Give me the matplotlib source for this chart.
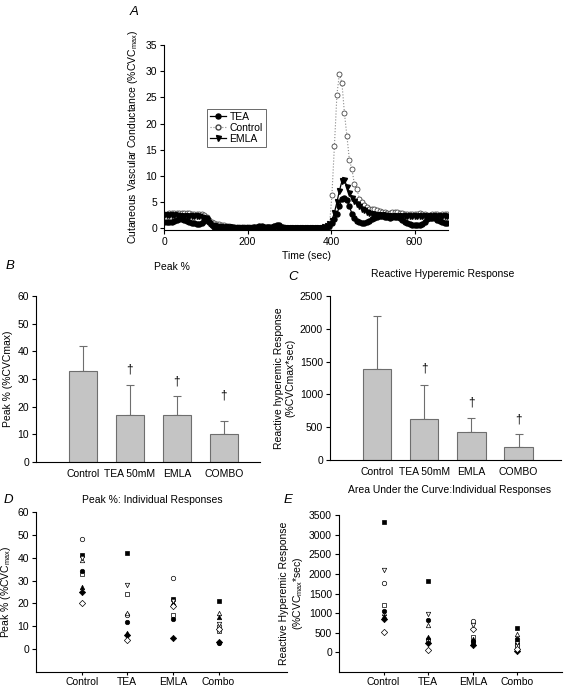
import numpy as np
import matplotlib
matplotlib.use('Agg')
import matplotlib.pyplot as plt
from matplotlib import rcParams
from matplotlib.lines import Line2D

rcParams['font.family'] = ['Liberation Sans', 'DejaVu Sans']
rcParams['font.size'] = 7.5
rcParams['axes.linewidth'] = 0.8
rcParams['xtick.major.size'] = 3
rcParams['ytick.major.size'] = 3
rcParams['xtick.major.width'] = 0.8
rcParams['ytick.major.width'] = 0.8
rcParams['mathtext.default'] = 'regular'

# ---------- data ----------
# panel A: time course, sampled every 6 s
time_s = np.arange(0, 680, 6)
cvc_control = [2.8, 2.8, 2.9, 2.9, 2.9, 3.0, 3.0, 3.0, 2.9, 2.9, 2.9, 2.8, 2.8, 2.8, 2.8, 2.7, 2.6,
               2.2, 1.6, 1.2, 1.0, 0.9, 0.8, 0.7, 0.6, 0.5, 0.4, 0.3, 0.3, 0.3, 0.3, 0.3, 0.3, 0.2,
               0.2, 0.2, 0.2, 0.3, 0.3, 0.3, 0.2, 0.2, 0.2, 0.3, 0.4, 0.5, 0.5, 0.3, 0.2, 0.1, 0.1,
               0.1, 0.1, 0.0, 0.0, 0.0, 0.0, 0.0, 0.0, 0.0, 0.0, 0.0, 0.0, 0.0, 0.1, 0.2, 0.3,
               6.3, 15.7, 25.5, 29.5, 27.8, 22.0, 17.6, 13.0, 11.3, 8.4, 7.5, 5.6, 5.0, 4.4, 4.0, 3.8, 3.8,
               3.7, 3.5, 3.3, 3.2, 3.1, 3.0, 3.0, 3.1, 3.2, 3.1, 3.0, 2.9, 2.8, 2.8, 2.8, 2.8, 2.8,
               2.8, 2.9, 2.8, 2.7, 2.6, 2.6, 2.7, 2.8, 2.7, 2.6, 2.7, 2.7, 2.7]
cvc_tea = [1.3, 1.3, 1.2, 1.2, 1.4, 1.7, 1.8, 1.8, 1.6, 1.4, 1.3, 1.1, 1.0, 0.9, 0.9, 1.1, 1.5,
           1.9, 1.2, 0.6, 0.3, 0.2, 0.1, 0.1, 0.1, 0.0, 0.0, 0.0, 0.0, 0.0, 0.1, 0.1, 0.1, 0.1,
           0.1, 0.1, 0.2, 0.3, 0.4, 0.4, 0.3, 0.2, 0.2, 0.3, 0.5, 0.7, 0.6, 0.3, 0.1, 0.0, 0.0,
           0.0, 0.0, 0.0, 0.0, 0.0, 0.0, 0.0, 0.0, 0.0, 0.0, 0.0, 0.0, 0.0, 0.1, 0.2, 0.4,
           1.0, 1.8, 2.8, 4.2, 5.6, 5.8, 5.4, 4.2, 2.8, 2.0, 1.5, 1.2, 1.0, 1.0, 1.2, 1.5, 1.8,
           2.0, 2.2, 2.3, 2.3, 2.2, 2.1, 2.0, 2.1, 2.2, 2.2, 2.0, 1.7, 1.3, 1.0, 0.8, 0.7, 0.6,
           0.6, 0.7, 0.9, 1.3, 1.8, 2.0, 2.0, 1.9, 1.7, 1.5, 1.3, 1.1, 1.0]
cvc_emla = [2.5, 2.5, 2.5, 2.5, 2.5, 2.5, 2.4, 2.4, 2.4, 2.4, 2.4, 2.4, 2.3, 2.3, 2.3, 2.2, 2.0,
            1.6, 1.0, 0.7, 0.5, 0.4, 0.3, 0.3, 0.2, 0.2, 0.2, 0.2, 0.1, 0.1, 0.1, 0.1, 0.1, 0.1,
            0.1, 0.1, 0.1, 0.1, 0.1, 0.1, 0.1, 0.1, 0.1, 0.1, 0.1, 0.1, 0.1, 0.1, 0.1, 0.1, 0.1,
            0.1, 0.1, 0.1, 0.1, 0.1, 0.1, 0.1, 0.1, 0.1, 0.1, 0.1, 0.1, 0.1, 0.2, 0.4, 0.8,
            1.5, 3.0, 5.0, 7.2, 9.0, 9.3, 8.0, 6.8, 5.8, 5.2, 4.6, 4.2, 3.8, 3.5, 3.2, 3.0, 2.8,
            2.7, 2.6, 2.5, 2.5, 2.5, 2.4, 2.4, 2.4, 2.4, 2.4, 2.4, 2.4, 2.4, 2.4, 2.3, 2.3, 2.3,
            2.3, 2.3, 2.3, 2.3, 2.3, 2.3, 2.3, 2.3, 2.3, 2.3, 2.3, 2.3, 2.3]

# panels B / C: group means with upper error
bar_groups = ['Control', 'TEA 50mM', 'EMLA', 'COMBO']
peak_mean = [33, 17, 17, 10]
peak_err = [9, 11, 7, 5]
peak_dagger = [None, 33.5, 29, 24]
auc_mean = [1390, 630, 430, 200]
auc_err = [800, 510, 210, 200]
auc_dagger = [None, 1400, 870, 610]

# panels D / E: individual subjects (Control, TEA, EMLA, Combo)
dot_groups = ['Control', 'TEA', 'EMLA', 'Combo']
subj_markers = ['o', 's', '^', 's', '^', 'D', 'D', 'v', 'o']
subj_filled = [False, True, False, False, True, True, False, False, True]
peak_indiv = [[48, 15, 31, 10],
              [41, 42, 22, 21],
              [39, 16, 20, 16],
              [33, 24, 15, 8],
              [27, 7, 20, 14],
              [25, 6, 5, 3],
              [20, 4, 19, 9],
              [40, 28, 21, 11],
              [34, 12, 13, 2.5]]
auc_indiv = [[1780, 350, 800, 200],
             [3320, 1820, 250, 620],
             [1000, 700, 350, 480],
             [1200, 300, 400, 150],
             [930, 400, 330, 300],
             [860, 230, 200, 30],
             [510, 60, 600, 80],
             [2100, 970, 700, 250],
             [1060, 830, 300, 330]]

W, H = 567, 691


def box(l, t, r, b):
    return [l / W, 1 - b / H, (r - l) / W, (b - t) / H]


def style(ax):
    ax.spines['top'].set_visible(False)
    ax.spines['right'].set_visible(False)
    ax.tick_params(direction='out', labelsize=7.5, pad=2)


fig = plt.figure(figsize=(W / 100, H / 100), dpi=100)

# ---------- A ----------
axA = fig.add_axes(box(164, 45, 448, 230))
style(axA)
axA.plot(time_s, cvc_control, ls=':', color='#888888', lw=0.8, marker='o', ms=3.6,
         mfc='white', mec='#444444', mew=0.6, label='Control', zorder=2)
axA.plot(time_s, cvc_emla, ls='-', color='black', lw=0.9, marker='v', ms=3.6,
         mfc='black', mec='black', label='EMLA', zorder=3)
axA.plot(time_s, cvc_tea, ls='-', color='black', lw=0.9, marker='o', ms=3.6,
         mfc='black', mec='black', label='TEA', zorder=4)
axA.set_xlim(0, 680)
axA.set_ylim(-0.3, 35)
axA.set_xticks([0, 200, 400, 600])
axA.set_yticks(range(0, 36, 5))
axA.set_xlabel('Time (sec)', fontsize=7.5, labelpad=3)
axA.set_ylabel('Cutaneous Vascular Conductance (%CVC$_{max}$)', fontsize=7.5, labelpad=4)
leg_handles = [
    Line2D([0], [0], color='black', lw=0.9, marker='o', ms=3.6, mfc='black', label='TEA'),
    Line2D([0], [0], color='#888888', ls=':', lw=0.8, marker='o', ms=3.6, mfc='white',
           mec='#444444', label='Control'),
    Line2D([0], [0], color='black', lw=0.9, marker='v', ms=3.6, mfc='black', label='EMLA'),
]
lg = axA.legend(handles=leg_handles, loc='upper left', bbox_to_anchor=(0.15, 0.655),
                fontsize=7.5, frameon=True, fancybox=False, handlelength=1.6,
                handletextpad=0.3, borderpad=0.3, labelspacing=0.1, borderaxespad=0)
lg.get_frame().set_edgecolor('#444444')
lg.get_frame().set_linewidth(0.7)


def bar_panel(ax, means, errs, daggers, ymax, yticks):
    style(ax)
    x = np.arange(len(bar_groups))
    ax.bar(x, means, width=0.6, color='#c4c4c4', edgecolor='#6e6e6e', linewidth=0.8, zorder=2)
    ax.errorbar(x, means, yerr=[np.zeros(len(errs)), errs], fmt='none', ecolor='#6e6e6e',
                elinewidth=0.8, capsize=3, capthick=0.8, zorder=1)
    for xi, d in zip(x, daggers):
        if d is not None:
            ax.text(xi, d, '\u2020', ha='center', va='center', fontsize=8.5)
    ax.set_ylim(0, ymax)
    ax.set_yticks(yticks)
    ax.set_xticks(x)
    ax.set_xticklabels(bar_groups, fontsize=7.5)
    ax.tick_params(axis='x', length=0, pad=5)


# ---------- B ----------
axB = fig.add_axes(box(36, 296, 260, 462))
bar_panel(axB, peak_mean, peak_err, peak_dagger, 60, range(0, 61, 10))
axB.set_xlim(-1, 3.77)
axB.set_ylabel('Peak % (%CVCmax)', fontsize=7.5, labelpad=3)

# ---------- C ----------
axC = fig.add_axes(box(330, 296, 561, 460))
bar_panel(axC, auc_mean, auc_err, auc_dagger, 2500, range(0, 2501, 500))
axC.set_xlim(-1, 3.9)
axC.set_ylabel('Reactive hyperemic Response\n(%CVCmax*sec)', fontsize=7.5, labelpad=3)


def dot_panel(ax, values, ylim, yticks):
    style(ax)
    for mk, filled, row in zip(subj_markers, subj_filled, values):
        ax.plot(np.arange(len(dot_groups)), row, ls='none', marker=mk, ms=3.2,
                mfc='black' if filled else 'white', mec='black', mew=0.5)
    ax.set_ylim(*ylim)
    ax.set_yticks(yticks)
    ax.set_xticks(np.arange(len(dot_groups)))
    ax.set_xticklabels(dot_groups, fontsize=7.5)
    ax.tick_params(axis='x', length=2.5, pad=1)


# ---------- D ----------
axD = fig.add_axes(box(36, 512, 287, 672))
dot_panel(axD, peak_indiv, (-10, 60), range(0, 61, 10))
axD.set_xlim(-1, 4.5)
axD.set_ylabel('Peak % (%CVC$_{max}$)', fontsize=7.5, labelpad=3)

# ---------- E ----------
axE = fig.add_axes(box(339, 515, 562, 672))
dot_panel(axE, auc_indiv, (-500, 3500), range(0, 3501, 500))
axE.set_xlim(-1, 4.0)
axE.set_ylabel('Reactive Hyperemic Response\n(%CVC$_{max}$*sec)', fontsize=7.5, labelpad=3)

# ---------- panel letters and titles ----------
def ftxt(x, y, s, **kw):
    fig.text(x / W, 1 - y / H, s, ha=kw.pop('ha', 'center'), va='center', **kw)


ftxt(130, 12, 'A', fontsize=9.5, style='italic', ha='left')
ftxt(6, 266, 'B', fontsize=9.5, style='italic', ha='left')
ftxt(288, 277, 'C', fontsize=9.5, style='italic', ha='left')
ftxt(4, 500, 'D', fontsize=9.5, style='italic', ha='left')
ftxt(284, 500, 'E', fontsize=9.5, style='italic', ha='left')
ftxt(172, 267, 'Peak %', fontsize=7.5)
ftxt(443, 274, 'Reactive Hyperemic Response', fontsize=7.5)
ftxt(450, 490, 'Area Under the Curve:Individual Responses', fontsize=7.5)
ftxt(152, 500, 'Peak %: Individual Responses', fontsize=7.5)

fig.savefig('out.png', dpi=100)
